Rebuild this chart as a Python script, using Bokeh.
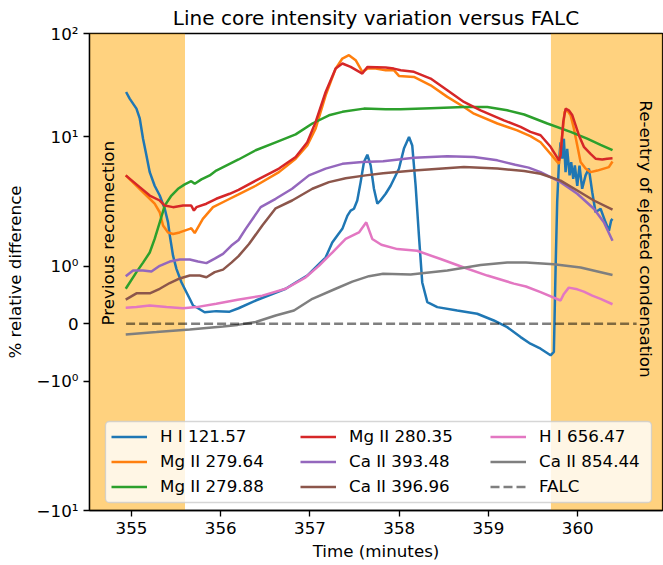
import numpy as np
from bokeh.plotting import figure
from bokeh.models import Range1d, BoxAnnotation, Label, Legend, LegendItem, FixedTicker
from bokeh.embed import file_html
from bokeh.resources import INLINE

FONT = "DejaVu Sans"

# ---- line core intensity, % relative difference to FALC, vs time (minutes) ----
t_h1216 = [354.94, 354.98, 355.056, 355.093, 355.13, 355.168, 355.205, 355.26, 355.317, 355.373,
           355.41, 355.43, 355.466, 355.504, 355.56, 355.616, 355.653, 355.69, 355.746, 355.82,
           355.95, 356.1, 356.2, 356.392, 356.728, 356.84, 356.97, 357.1, 357.175, 357.25,
           357.307, 357.363, 357.42, 357.456, 357.493, 357.53, 357.568, 357.605, 357.643, 357.68,
           357.717, 357.755, 357.79, 357.848, 357.904, 357.997, 358.053, 358.11, 358.146, 358.184,
           358.221, 358.258, 358.315, 358.427, 358.65, 358.874, 359.06, 359.21, 359.36, 359.47,
           359.584, 359.696, 359.733, 359.752, 359.77, 359.79, 359.808, 359.827, 359.845, 359.864,
           359.882, 359.909, 359.927, 359.95, 359.968, 359.995, 360.02, 360.05, 360.088, 360.125,
           360.163, 360.2, 360.256, 360.312, 360.35, 360.375, 360.39]
v_h1216 = [27.2, 23.5, 18.8, 15.1, 9.7, 7.2, 5.35, 4.2, 3.53, 2.79,
           2.19, 1.73, 1.21, 0.957, 0.724, 0.55, 0.435, 0.318, 0.27, 0.20,
           0.22, 0.21, 0.27, 0.405, 0.61, 0.72, 0.84, 1.04, 1.17, 1.53,
           1.73, 1.95, 2.47, 2.7, 2.79, 3.23, 4.48, 6.4, 7.3, 6.03,
           3.98, 3.05, 3.23, 3.64, 4.2, 5.69, 8.13, 10.0, 8.6, 4.2,
           1.73, 0.72, 0.376, 0.29, 0.23, 0.174, 0.057, -0.059, -0.233, -0.348,
           -0.435, -0.55, -0.49, 0.957, 3.13, 6.4, 9.1, 6.8, 9.7, 5.35,
           8.1, 5.05, 6.4, 4.75, 6.03, 4.2, 6.0, 3.98, 5.05, 5.7,
           3.74, 2.62, 2.79, 2.19, 1.89, 2.26, 2.33]

t_mg27964 = [354.936, 355.056, 355.168, 355.26, 355.317, 355.354, 355.41, 355.466, 355.54, 355.653,
             355.67, 355.709, 355.8, 355.914, 356.063, 356.2, 356.392, 356.653, 356.84, 356.97,
             357.064, 357.176, 357.288, 357.363, 357.437, 357.512, 357.587, 357.643, 357.736, 357.848,
             357.94, 357.997, 358.165, 358.352, 358.539, 358.725, 358.837, 359.1, 359.322, 359.47,
             359.584, 359.696, 359.79, 359.827, 359.853, 359.882, 359.92, 359.957, 359.995, 360.032,
             360.088, 360.144, 360.219, 360.293, 360.349, 360.39]
v_mg27964 = [5.05, 4.2, 3.53, 3.05, 2.62, 2.07, 1.83, 1.78, 1.83, 1.95,
             1.97, 1.81, 2.33, 2.87, 3.23, 3.6, 4.2, 5.35, 6.8, 8.6,
             12.1, 25.3, 45.8, 57.3, 61.7, 55.2, 42.6, 45.8, 45.8, 44.2,
             44.2, 38.9, 38.0, 31.6, 24.4, 19.5, 16.8, 13.5, 11.6, 10.2,
             9.1, 7.4, 6.2, 10.4, 17.5, 18.1, 16.2, 12.1, 8.6, 6.4,
             5.7, 5.35, 5.5, 5.7, 5.85, 6.46]

t_mg27988 = [354.936, 355.056, 355.13, 355.205, 355.26, 355.317, 355.373, 355.448, 355.522, 355.597,
             355.67, 355.709, 355.784, 355.877, 355.95, 356.1, 356.2, 356.392, 356.616, 356.84,
             357.027, 357.213, 357.363, 357.605, 357.848, 358.016, 358.352, 358.725, 358.987, 359.21,
             359.4, 359.66, 359.92, 360.106, 360.256, 360.39]
v_mg27988 = [0.61, 0.9, 1.07, 1.28, 1.63, 2.19, 2.95, 3.53, 3.98, 4.3,
             4.55, 4.35, 4.7, 5.05, 5.5, 6.2, 6.7, 7.9, 9.1, 10.6,
             13.5, 16.2, 17.5, 18.8, 18.5, 18.5, 19.0, 19.5, 19.5, 18.1,
             16.5, 13.5, 11.2, 9.7, 8.7, 7.9]

t_mg28035 = [354.936, 355.093, 355.205, 355.317, 355.373, 355.466, 355.578, 355.67, 355.7, 355.728,
             355.84, 355.95, 356.1, 356.2, 356.392, 356.653, 356.84, 356.97, 357.064, 357.176,
             357.288, 357.363, 357.456, 357.587, 357.643, 357.848, 357.94, 358.016, 358.165, 358.352,
             358.539, 358.725, 358.912, 359.173, 359.36, 359.47, 359.584, 359.696, 359.79, 359.808,
             359.838, 359.864, 359.9, 359.94, 359.976, 360.013, 360.069, 360.144, 360.2, 360.275,
             360.33, 360.39]
v_mg28035 = [5.05, 4.1, 3.53, 3.23, 2.95, 2.87, 2.95, 2.95, 2.7, 2.87,
             3.05, 3.33, 3.64, 3.9, 4.6, 5.7, 7.0, 9.1, 14.0, 27.2,
             45.8, 51.3, 47.5, 41.0, 47.5, 46.9, 45.8, 44.2, 42.6, 36.7,
             28.3, 21.8, 18.1, 14.5, 12.5, 11.2, 10.4, 8.4, 6.6, 7.2,
             14.0, 18.8, 18.1, 16.2, 13.0, 10.4, 8.4, 7.4, 6.8, 6.7,
             6.8, 6.85]

t_ca39348 = [354.936, 355.018, 355.13, 355.224, 355.317, 355.429, 355.541, 355.653, 355.746, 355.84,
             355.933, 356.026, 356.12, 356.2, 356.28, 356.448, 356.616, 356.8, 356.989, 357.176,
             357.363, 357.587, 357.82, 358.165, 358.539, 358.837, 359.1, 359.3, 359.45, 359.584,
             359.808, 359.995, 360.181, 360.293, 360.39]
v_ca39348 = [0.83, 0.93, 0.93, 0.91, 1.01, 1.09, 1.13, 1.13, 1.09, 1.06,
             1.15, 1.25, 1.45, 1.6, 1.95, 2.87, 3.33, 3.98, 5.05, 5.7,
             6.2, 6.4, 6.5, 6.9, 7.1, 7.0, 6.6, 6.1, 5.8, 5.35,
             4.48, 3.64, 2.79, 2.19, 1.58]

t_ca39696 = [354.936, 355.056, 355.205, 355.317, 355.429, 355.541, 355.653, 355.765, 355.84, 355.933,
             356.026, 356.12, 356.2, 356.317, 356.466, 356.616, 356.8, 357.027, 357.213, 357.4,
             357.624, 357.82, 358.165, 358.725, 359.1, 359.4, 359.584, 359.808, 359.995, 360.181,
             360.39]
v_ca39696 = [0.42, 0.53, 0.53, 0.61, 0.71, 0.79, 0.84, 0.84, 0.81, 0.9,
             0.944, 1.07, 1.2, 1.49, 2.07, 2.81, 3.23, 3.98, 4.48, 4.8,
             5.05, 5.25, 5.5, 5.85, 5.7, 5.45, 5.2, 4.6, 3.86, 3.23,
             2.75]

t_h6565 = [354.936, 355.056, 355.205, 355.392, 355.578, 355.728, 355.95, 356.19, 356.466, 356.728,
           356.952, 357.1, 357.25, 357.4, 357.549, 357.631, 357.698, 357.8, 357.979, 358.2,
           358.464, 358.725, 358.987, 359.285, 359.42, 359.584, 359.808, 359.845, 359.9, 359.995,
           360.069, 360.163, 360.256, 360.39]
v_h6565 = [0.28, 0.29, 0.32, 0.29, 0.27, 0.29, 0.35, 0.42, 0.49, 0.61,
           0.81, 1.01, 1.28, 1.63, 1.83, 2.19, 1.63, 1.47, 1.36, 1.32,
           1.14, 0.98, 0.84, 0.70, 0.65, 0.55, 0.405, 0.52, 0.63, 0.6,
           0.56, 0.49, 0.435, 0.34]

t_ca85444 = [354.936, 355.28, 355.653, 356.026, 356.19, 356.392, 356.616, 356.821, 357.027, 357.288,
             357.475, 357.661, 357.82, 358.128, 358.539, 358.912, 359.21, 359.42, 359.733, 360.032,
             360.39]
v_ca85444 = [-0.186, -0.146, -0.10, -0.047, -0.02, 0.03, 0.144, 0.23, 0.435, 0.61,
             0.735, 0.83, 0.87, 0.857, 0.93, 1.025, 1.07, 1.07, 1.04, 0.98,
             0.85]

# FALC reference level
t_falc = [354.94, 360.66]
v_falc = [0.0, 0.0]

series_names = ["H I 121.57", "Mg II 279.64", "Mg II 279.88", "Mg II 280.35",
                "Ca II 393.48", "Ca II 396.96", "H I 656.47", "Ca II 854.44"]
series_t = [t_h1216, t_mg27964, t_mg27988, t_mg28035, t_ca39348, t_ca39696, t_h6565, t_ca85444]
series_v = [v_h1216, v_mg27964, v_mg27988, v_mg28035, v_ca39348, v_ca39696, v_h6565, v_ca85444]
series_colors = ["#1f77b4", "#ff7f0e", "#2ca02c", "#d62728",
                 "#9467bd", "#8c564b", "#e377c2", "#7f7f7f"]

# shaded intervals (minutes)
prev_reconnection_end = 355.6
reentry_start = 359.7

y_tick_values = [-10, -1, 0, 1, 10, 100]
y_tick_labels = ["\u221210\u00b9", "\u221210\u2070", "0", "10\u2070", "10\u00b9", "10\u00b2"]
x_ticks = [355, 356, 357, 358, 359, 360]

# symmetric-log vertical mapping: linear inside |v|<=1, logarithmic outside
LIN = 57.3
DEC_LO = 129.3
DEC_HI = 103.4


def ymap(v):
    v = np.asarray(v, dtype=float)
    a = np.abs(v)
    s = np.sign(v)
    la = np.log10(np.maximum(a, 1e-12))
    return np.where(a <= 1, LIN * v,
                    np.where(a <= 10, s * (LIN + DEC_LO * la),
                             s * (LIN + DEC_LO + DEC_HI * (la - 1.0))))


p = figure(width=663, height=565, output_backend="svg", toolbar_location=None,
           x_range=Range1d(354.53, 360.95),
           y_range=Range1d(float(ymap(-10)), float(ymap(100))),
           min_border_left=89, min_border_right=1, min_border_top=32, min_border_bottom=55,
           background_fill_color="white", border_fill_color="white")

p.title.text = "Line core intensity variation versus FALC"
p.title.align = "center"
p.title.text_font = FONT
p.title.text_font_size = "20px"
p.title.text_font_style = "normal"
p.title.text_color = "black"
p.title.standoff = 7

p.grid.visible = False
p.outline_line_color = "black"
p.outline_line_width = 1.33
p.outline_line_alpha = 1.0

# shaded time intervals
p.add_layout(BoxAnnotation(right=prev_reconnection_end, fill_color="orange", fill_alpha=0.5,
                           line_alpha=0, level="underlay"))
p.add_layout(BoxAnnotation(left=reentry_start, fill_color="orange", fill_alpha=0.5,
                           line_alpha=0, level="underlay"))

renderers = []
for tt, vv, col in zip(series_t, series_v, series_colors):
    r = p.line(tt, ymap(vv), line_color=col, line_width=2.5)
    renderers.append(r)
r_falc = p.line(t_falc, ymap(v_falc), line_color="black", line_alpha=0.5, line_width=2.5,
                line_dash="9 4")

# axes
ytick_pos = [float(y) for y in ymap(y_tick_values)]
p.yaxis.ticker = FixedTicker(ticks=ytick_pos)
p.yaxis.major_label_overrides = {pos: lab for pos, lab in zip(ytick_pos, y_tick_labels)}
p.xaxis.ticker = FixedTicker(ticks=x_ticks)

for ax in (p.xaxis[0], p.yaxis[0]):
    ax.minor_tick_line_color = None
    ax.major_tick_in = 0
    ax.major_tick_out = 6
    ax.major_tick_line_width = 1.33
    ax.major_tick_line_color = "black"
    ax.axis_line_color = "black"
    ax.axis_line_width = 1.33
    ax.major_label_text_font = FONT
    ax.major_label_text_font_size = "16.7px"
    ax.major_label_text_color = "black"
    ax.axis_label_text_font = FONT
    ax.axis_label_text_font_size = "16.7px"
    ax.axis_label_text_font_style = "normal"
    ax.axis_label_text_color = "black"
    ax.major_label_standoff = 5

p.xaxis.axis_label = "Time (minutes)"
p.yaxis.axis_label = "% relative difference"
p.xaxis.axis_label_standoff = 4
p.yaxis.axis_label_standoff = 9

# interval annotations
p.add_layout(Label(x=354.735, y=float(ymap(-0.03)), text="Previous reconnection",
                   angle=np.pi / 2, text_align="left", text_baseline="middle",
                   text_font=FONT, text_font_size="16.7px", text_color="black"))
p.add_layout(Label(x=360.77, y=float(ymap(22.6)), text="Re-entry of ejected condensation",
                   angle=-np.pi / 2, text_align="left", text_baseline="middle",
                   text_font=FONT, text_font_size="16.7px", text_color="black"))

# legend: a framed box holding three columns of entries (screen offsets from the frame corner)
p.add_layout(BoxAnnotation(left=16, right=562, bottom=8, top=89,
                           left_units="screen", right_units="screen",
                           bottom_units="screen", top_units="screen",
                           fill_color="white", fill_alpha=0.8,
                           line_color="#cccccc", line_alpha=0.8, line_width=1.3,
                           border_radius=4, level="annotation"))

items = [LegendItem(label=n, renderers=[r]) for n, r in zip(series_names, renderers)]
items.append(LegendItem(label="FALC", renderers=[r_falc]))
column_x = [16, 205, 395]
for c, x0 in enumerate(column_x):
    leg = Legend(items=items[3 * c:3 * c + 3], location=(x0, 8), orientation="vertical",
                 label_text_font=FONT, label_text_font_size="16.7px", label_text_color="black",
                 glyph_width=36, glyph_height=17, label_height=17, label_standoff=13,
                 label_width=20, spacing=5, padding=6, margin=0,
                 background_fill_alpha=0, border_line_alpha=0)
    p.add_layout(leg)

open("out.html", "w").write(file_html(p, INLINE))
